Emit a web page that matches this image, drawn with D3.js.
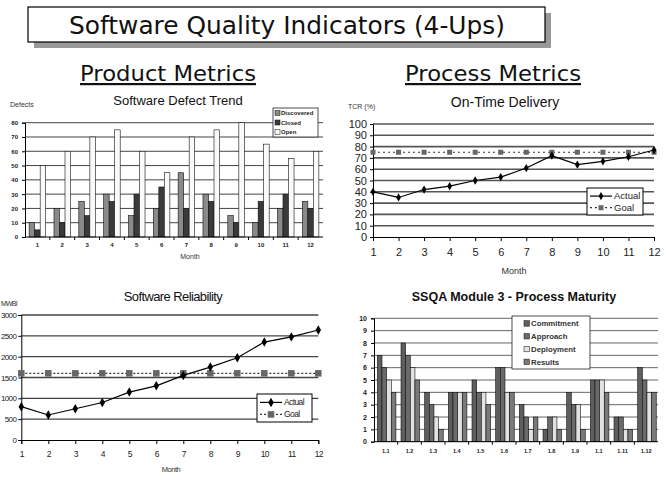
<!DOCTYPE html>
<html><head><meta charset="utf-8">
<script src="https://cdn.jsdelivr.net/npm/d3@7"></script>
<style>body{margin:0;background:#fff}text{font-family:"Liberation Sans",Arial,sans-serif}</style>
</head><body>
<svg id="c" width="666" height="487"></svg>
<script>
// ---------- data ----------
const months = [1,2,3,4,5,6,7,8,9,10,11,12];
const defectSeries = ["Discovered","Closed","Open"];
const discovered = [10,20,25,30,15,20,45,30,15,10,20,25];
const closed     = [5,10,15,25,30,35,20,25,10,25,30,20];
const openDef    = [50,60,70,75,60,45,70,75,80,65,55,60];
const defectTicks = [0,10,20,30,40,50,60,70,80];

const tcrActual = [40,35,42,45,50,53,61,72,64,67,71,77];
const tcrGoal   = [75,75,75,75,75,75,75,75,75,75,75,75];
const tcrTicks  = [0,10,20,30,40,50,60,70,80,90,100];

const mwbiActual = [800,600,750,900,1150,1300,1550,1750,1975,2350,2475,2640];
const mwbiGoal   = [1600,1600,1600,1600,1600,1600,1600,1600,1600,1600,1600,1600];
const mwbiTicks  = [0,500,1000,1500,2000,2500,3000];

const ssqaCats = ["1.1","1.2","1.3","1.4","1.5","1.6","1.7","1.8","1.9","1.1 ","1.11","1.12"];
const ssqaSeries = ["Commitment","Approach","Deployment","Results"];
const commitment = [7,8,4,4,5,6,3,1,4,5,2,6];
const approach   = [6,7,3,4,4,6,2,2,3,5,2,5];
const deployment = [5,6,2,4,4,4,1,2,3,5,1,4];
const results    = [4,5,1,4,3,4,2,1,1,4,1,4];
const ssqaTicks  = [0,1,2,3,4,5,6,7,8,9,10];

const svg = d3.select("#c");

// ---------- header ----------
svg.append("rect").attr("x",34).attr("y",13).attr("width",517).attr("height",35).attr("fill","#999");
svg.append("rect").attr("x",28).attr("y",7).attr("width",517).attr("height",35).attr("fill","#fff").attr("stroke","#000").attr("stroke-width",1.2);
svg.append("text").attr("x",287).attr("y",34).attr("text-anchor","middle")
  .style("font-family","'DejaVu Sans',sans-serif").style("font-size","25px")
  .attr("textLength",436).attr("lengthAdjust","spacingAndGlyphs").attr("fill","#111")
  .text("Software Quality Indicators (4-Ups)");
[["Product Metrics",168],["Process Metrics",493]].forEach(([t,x])=>{
  svg.append("text").attr("x",x).attr("y",81).attr("text-anchor","middle")
    .style("font-family","'DejaVu Sans',sans-serif").style("font-size","22px")
    .attr("textLength",176).attr("lengthAdjust","spacingAndGlyphs").attr("fill","#111")
    .style("text-decoration","underline").text(t);
});

// ---------- helpers ----------
function barChart(o){
  const g = svg.append("g");
  const x0 = d3.scaleBand().domain(o.cats).range([o.x1,o.x2]).paddingInner(0).paddingOuter(0);
  const y = d3.scaleLinear().domain([0,o.ymax]).range([o.y0,o.y1]);
  const x1 = d3.scaleBand().domain(o.series).range([0,x0.bandwidth()]).paddingOuter(o.pad).paddingInner(0);
  g.selectAll(".gr").data(o.ticks.slice(1)).join("line")
    .attr("x1",o.x1).attr("x2",o.x2).attr("y1",d=>y(d)).attr("y2",d=>y(d))
    .attr("stroke",o.gridColor).attr("stroke-width",o.gridW||1);
  o.series.forEach((s,si)=>{
    g.selectAll(".b"+si).data(o.values[si]).join("rect")
      .attr("x",(d,i)=>x0(o.cats[i])+x1(s)+(o.shift||0))
      .attr("width",x1.bandwidth())
      .attr("y",d=>y(d)).attr("height",d=>o.y0-y(d))
      .attr("fill",o.colors[si]).attr("stroke","#111").attr("stroke-width",0.6);
  });
  const ya = g.append("g").attr("transform",`translate(${o.x1},0)`)
    .call(d3.axisLeft(y).tickValues(o.ticks).tickFormat(d3.format("d")).tickSize(3).tickPadding(4));
  ya.select(".domain").attr("stroke","#000");
  ya.selectAll("text").style("font-size",o.yfs).style("font-weight","bold").attr("fill","#222");
  const xa = g.append("g").attr("transform",`translate(0,${o.y0})`)
    .call(d3.axisBottom(x0).tickSize(0).tickPadding(o.xpad));
  xa.select(".domain").attr("stroke","#000").attr("d",`M${o.x1},0H${o.x2}`);
  xa.selectAll("text").style("font-size",o.xfs).style("font-weight","bold").attr("fill","#222");
  g.selectAll(".sep").data(o.cats.slice(1)).join("line")
    .attr("x1",d=>x0(d)).attr("x2",d=>x0(d)).attr("y1",o.y0).attr("y2",o.y0+3).attr("stroke","#000");
  return {g,x0,y};
}

function lineChart(o){
  const g = svg.append("g");
  const x = d3.scalePoint().domain(months).range([o.x1,o.x2]);
  const y = d3.scaleLinear().domain([0,o.ymax]).range([o.y0,o.y1]);
  g.selectAll(".gr").data(o.ticks.slice(1)).join("line")
    .attr("x1",o.x1).attr("x2",o.x2).attr("y1",d=>y(d)).attr("y2",d=>y(d))
    .attr("stroke",o.gridColor).attr("stroke-width",o.gridW);
  const ya = g.append("g").attr("transform",`translate(${o.x1},0)`)
    .call(d3.axisLeft(y).tickValues(o.ticks).tickFormat(d3.format("d")).tickSize(3).tickPadding(o.ypad));
  ya.select(".domain").attr("stroke","#000");
  ya.selectAll("text").style("font-size",o.yfs).style("letter-spacing",o.ls||"0").attr("fill","#222");
  const xa = g.append("g").attr("transform",`translate(0,${o.y0})`)
    .call(d3.axisBottom(x).tickSize(4).tickPadding(o.xpad));
  xa.select(".domain").attr("stroke","#000");
  xa.selectAll("text").style("font-size",o.xfs).style("letter-spacing",o.ls||"0").attr("fill","#222");
  const ln = d3.line().x((d,i)=>x(months[i])).y(d=>y(d));
  g.append("path").attr("d",ln(o.goal)).attr("fill","none").attr("stroke","#333")
    .attr("stroke-width",1.2).attr("stroke-dasharray",o.goalDash);
  g.selectAll(".gm").data(o.goal).join("rect")
    .attr("x",(d,i)=>x(months[i])-o.sq/2).attr("y",d=>y(d)-o.sq/2)
    .attr("width",o.sq).attr("height",o.sq).attr("fill","#666");
  g.append("path").attr("d",ln(o.actual)).attr("fill","none").attr("stroke","#000").attr("stroke-width",1.2);
  const dm = d3.symbol().type(d3.symbolDiamond).size(o.dsize);
  g.selectAll(".am").data(o.actual).join("path")
    .attr("transform",(d,i)=>`translate(${x(months[i])},${y(d)})`).attr("d",dm()).attr("fill","#000");
  const L = o.legend;
  g.append("rect").attr("x",L.x).attr("y",L.y).attr("width",L.w).attr("height",L.h)
    .attr("fill","#fff").attr("stroke","#000").attr("stroke-width",1);
  const r1 = L.y+L.h*0.3, r2 = L.y+L.h*0.73, lx1=L.x+3, lx2=L.x+L.lw;
  g.append("line").attr("x1",lx1).attr("x2",lx2).attr("y1",r1).attr("y2",r1).attr("stroke","#000").attr("stroke-width",1.2);
  g.append("path").attr("transform",`translate(${(lx1+lx2)/2},${r1})`).attr("d",dm()).attr("fill","#000");
  g.append("line").attr("x1",lx1).attr("x2",lx2).attr("y1",r2).attr("y2",r2).attr("stroke","#333").attr("stroke-width",1.2).attr("stroke-dasharray",o.goalDash);
  g.append("rect").attr("x",(lx1+lx2)/2-o.sq/2).attr("y",r2-o.sq/2).attr("width",o.sq).attr("height",o.sq).attr("fill","#666");
  [["Actual",r1],["Goal",r2]].forEach(([t,yy])=>g.append("text").attr("x",lx2+2).attr("y",yy).attr("dy","0.35em")
    .style("font-size",L.fs).style("letter-spacing",o.ls||"0").attr("fill","#222").text(t));
  return g;
}

function label(t,x,y,fs,opts={}){
  const el = svg.append("text").attr("x",x).attr("y",y).attr("text-anchor",opts.anchor||"middle")
    .style("font-size",fs+"px").attr("fill",opts.fill||"#111").text(t);
  if(opts.bold) el.style("font-weight","bold");
  if(opts.ls) el.style("letter-spacing",opts.ls);
  return el;
}

// ---------- chart 1: defect trend ----------
barChart({cats:months, series:defectSeries, values:[discovered,closed,openDef],
  x1:25, x2:323, y0:237, y1:122.7, ymax:80, ticks:defectTicks, pad:0.75,
  colors:["#8a8a8a","#3a3a3a","#fafafa"], gridColor:"#444", yfs:"6px", xfs:"6px", xpad:6});
label("Software Defect Trend",178,105,13);
label("Defects",10,107,7,{anchor:"start",fill:"#333"});
label("Month",190,259,7,{fill:"#333"});
(function(){
  const lx=273, ly=108, items=[["Discovered","#8a8a8a"],["Closed","#3a3a3a"],["Open","#fafafa"]];
  svg.append("rect").attr("x",lx).attr("y",ly).attr("width",45).attr("height",29).attr("fill","#fff").attr("stroke","#222").attr("stroke-width",0.8);
  items.forEach(([t,c],i)=>{
    const yy = ly+5+i*9.5;
    svg.append("rect").attr("x",lx+2).attr("y",yy-2.5).attr("width",5).attr("height",5).attr("fill",c).attr("stroke","#111").attr("stroke-width",0.5);
    label(t,lx+8,yy+2.2,6,{anchor:"start",bold:true,fill:"#222"});
  });
})();

// ---------- chart 2: on-time delivery ----------
lineChart({x1:373, x2:654, y0:237, y1:124, ymax:100, ticks:tcrTicks, actual:tcrActual, goal:tcrGoal,
  gridColor:"#555", gridW:1.6, yfs:"11px", xfs:"11px", xpad:7, ypad:3, goalDash:"2,3", sq:5, dsize:20,
  legend:{x:587,y:188,w:56,h:27,lw:25,fs:"9.5px"}});
label("On-Time Delivery",505,107,14);
label("TCR (%)",348,109,7,{anchor:"start",fill:"#333"});
label("Month",514,274,9,{fill:"#333"});

// ---------- chart 3: reliability ----------
lineChart({x1:21.3, x2:318.3, y0:440, y1:315, ymax:3000, ticks:mwbiTicks, actual:mwbiActual, goal:mwbiGoal,
  gridColor:"#444", gridW:1.4, yfs:"8px", xfs:"8.5px", xpad:7, ypad:2, goalDash:"2,2", sq:6.5, dsize:26, ls:"-0.6px",
  legend:{x:257,y:394,w:55,h:28,lw:25,fs:"8.5px"}});
label("Software Reliability",173,301,13,{ls:"-0.6px"});
label("MWBI",1,306,7,{anchor:"start",fill:"#333",ls:"-0.8px"});
label("Month",171,472,7.5,{fill:"#333",ls:"-0.5px"});

// ---------- chart 4: SSQA ----------
barChart({cats:ssqaCats, series:ssqaSeries, values:[commitment,approach,deployment,results],
  x1:374, x2:658, y0:441.7, y1:318.3, ymax:10, ticks:ssqaTicks, pad:0.55, shift:0.8,
  colors:["#5e5e5e","#6a6a6a","#e2e2e2","#7a7a7a"], gridColor:"#555", gridW:0.9, yfs:"7px", xfs:"5.5px", xpad:7});
label("SSQA Module 3 - Process Maturity",514,301,12.5,{bold:true});
(function(){
  const lx=512, ly=316, items=[["Commitment","#5e5e5e"],["Approach","#6a6a6a"],["Deployment","#e2e2e2"],["Results","#7a7a7a"]];
  svg.append("rect").attr("x",lx).attr("y",ly).attr("width",78).attr("height",53).attr("fill","#fff").attr("stroke","#222").attr("stroke-width",0.8);
  items.forEach(([t,c],i)=>{
    const yy = ly+7.5+i*12.8;
    svg.append("rect").attr("x",lx+12).attr("y",yy-2.8).attr("width",5.5).attr("height",5.5).attr("fill",c).attr("stroke","#111").attr("stroke-width",0.5);
    label(t,lx+19,yy+2.8,7.8,{anchor:"start",bold:true,fill:"#333"});
  });
})();
</script>
</body></html>
